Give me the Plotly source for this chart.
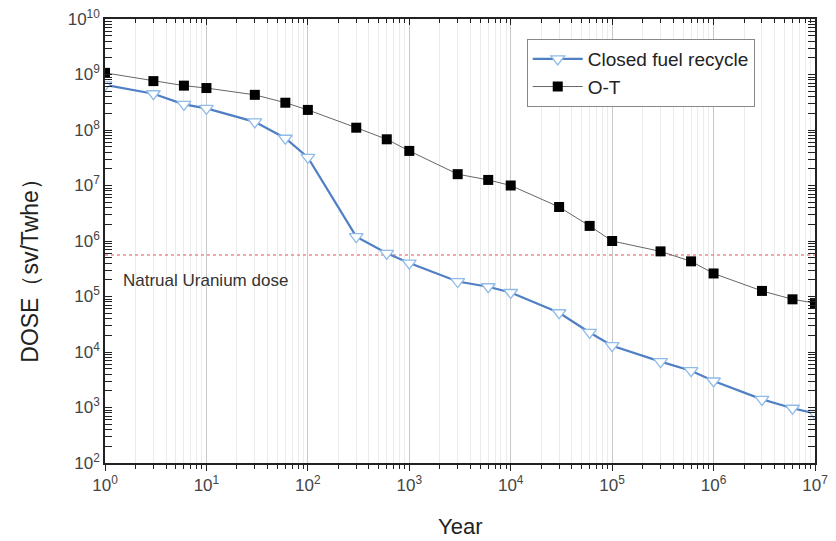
import plotly.graph_objects as go

years = [1, 3, 6, 10, 30, 60, 100, 300, 600, 1000, 3000, 6000, 1e4, 3e4, 6e4,
         1e5, 3e5, 6e5, 1e6, 3e6, 6e6, 1e7]
closed_recycle = [6.5e8, 4.5e8, 2.9e8, 2.45e8, 1.4e8, 7.1e7, 3.2e7, 1.2e6, 6.0e5,
                  4.0e5, 1.86e5, 1.5e5, 1.18e5, 5.1e4, 2.25e4, 1.3e4, 6.7e3,
                  4.6e3, 3.0e3, 1.4e3, 9.7e2, 7.8e2]
once_through = [1.07e9, 7.6e8, 6.3e8, 5.7e8, 4.3e8, 3.1e8, 2.3e8, 1.1e8, 6.8e7,
                4.2e7, 1.6e7, 1.26e7, 1.0e7, 4.1e6, 1.87e6, 1.0e6, 6.5e5, 4.3e5,
                2.6e5, 1.26e5, 8.9e4, 7.6e4]
natural_uranium_dose = 5.6e5

x_tick_vals = [10 ** k for k in range(0, 8)]
x_tick_text = [f"10<sup>{k}</sup>" for k in range(0, 8)]
y_tick_vals = [10 ** k for k in range(2, 11)]
y_tick_text = [f"10<sup>{k}</sup>" for k in range(2, 11)]

x_minor = [m * 10 ** k for k in range(0, 7) for m in range(2, 10)]
y_minor = [m * 10 ** k for k in range(2, 10) for m in range(2, 10)]

font_family = "Liberation Sans, Arial, sans-serif"
tick_color = "#444444"

fig = go.Figure()

fig.add_trace(go.Scatter(
    x=[years[0], years[-1]], y=[natural_uranium_dose, natural_uranium_dose],
    mode="lines", line=dict(color="#f08c8c", width=1.3, dash="dot"),
    showlegend=False, hoverinfo="skip"))

fig.add_trace(go.Scatter(
    x=years, y=closed_recycle, name="Closed fuel recycle",
    mode="lines+markers",
    line=dict(color="#4f7fc4", width=2.2),
    marker=dict(symbol="triangle-down", size=12, color="white",
                line=dict(color="#8fbbe8", width=1.3))))

fig.add_trace(go.Scatter(
    x=years, y=once_through, name="O-T",
    mode="lines+markers",
    line=dict(color="#666666", width=1),
    marker=dict(symbol="square", size=10, color="black",
                line=dict(color="black", width=0))))

# invisible trace to carry the top axis ticks
fig.add_trace(go.Scatter(
    x=[years[0], years[-1]], y=[natural_uranium_dose, natural_uranium_dose],
    xaxis="x2", mode="lines", line=dict(width=0), opacity=0,
    showlegend=False, hoverinfo="skip"))

fig.add_annotation(
    text="Natrual Uranium dose", xref="paper", yref="paper",
    x=0.022, y=0.41, xanchor="left", yanchor="middle", showarrow=False,
    font=dict(family=font_family, size=17, color="#333333"))

fig.add_annotation(
    text="Year", xref="paper", yref="paper", x=0.5, y=-0.144,
    xanchor="center", yanchor="middle", showarrow=False,
    font=dict(family=font_family, size=22, color="#222222"))

fig.add_annotation(
    text="DOSE（sv/Twhe）", xref="paper", yref="paper", x=-0.106, y=0.446,
    xanchor="center", yanchor="middle", showarrow=False, textangle=-90,
    font=dict(family=font_family, size=23, color="#222222"))

fig.update_layout(
    xaxis=dict(
        type="log", range=[0, 7], tickmode="array", tickvals=x_tick_vals,
        ticktext=x_tick_text, showgrid=True, gridcolor="#c8c8c8", gridwidth=1,
        showline=True, linecolor="#222222", linewidth=1.5, mirror=True,
        ticks="outside", ticklen=6, tickwidth=1.3, tickcolor="#222222",
        tickfont=dict(family=font_family, size=17, color=tick_color),
        zeroline=False, automargin=False,
        minor=dict(tickmode="array", tickvals=x_minor, ticks="outside",
                   ticklen=4, tickcolor="#222222", showgrid=True,
                   gridcolor="#ebebeb", gridwidth=1),
    ),
    xaxis2=dict(
        type="log", range=[0, 7], overlaying="x", side="top",
        tickmode="array", tickvals=x_tick_vals, showticklabels=False,
        showgrid=False, showline=False, zeroline=False, automargin=False,
        ticks="inside", ticklen=6, tickwidth=1.3, tickcolor="#222222",
        minor=dict(tickmode="array", tickvals=x_minor, ticks="inside",
                   ticklen=4, tickcolor="#222222", showgrid=False),
    ),
    yaxis=dict(
        type="log", range=[2, 10], tickmode="array", tickvals=y_tick_vals,
        ticktext=y_tick_text, showgrid=False,
        showline=True, linecolor="#222222", linewidth=1.5, mirror="allticks",
        ticks="inside", ticklen=7, tickwidth=1.3, tickcolor="#222222",
        tickfont=dict(family=font_family, size=17, color=tick_color),
        zeroline=False, automargin=False,
        minor=dict(tickmode="array", tickvals=y_minor, ticks="inside",
                   ticklen=4, tickcolor="#222222", showgrid=False),
    ),
    width=836, height=541,
    margin=dict(l=105, r=21, t=19, b=78),
    paper_bgcolor="white", plot_bgcolor="white",
    font=dict(family=font_family, color="#222222"),
    legend=dict(x=0.594, y=0.955, xanchor="left", yanchor="top",
                bgcolor="white", bordercolor="#888888", borderwidth=1,
                font=dict(family=font_family, size=19, color="#222222"),
                tracegroupgap=0, itemwidth=50),
)

fig.write_html("out.html")
